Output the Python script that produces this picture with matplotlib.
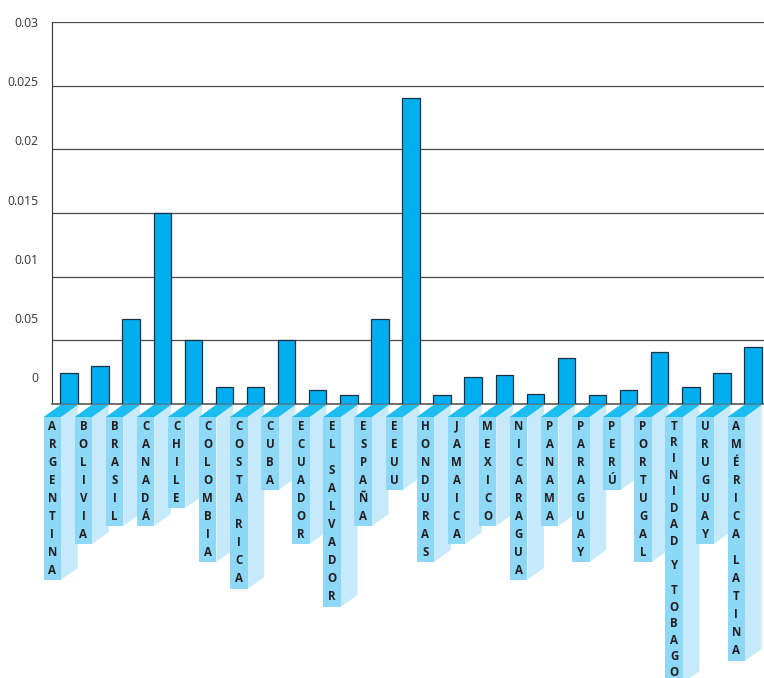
import matplotlib.pyplot as plt
from matplotlib.patches import Polygon
from matplotlib.transforms import IdentityTransform
import numpy as np

# Datos
paises = ['ARGENTINA', 'BOLIVIA', 'BRASIL', 'CANADÁ', 'CHILE', 'COLOMBIA',
          'COSTA RICA', 'CUBA', 'ECUADOR', 'EL SALVADOR', 'ESPAÑA', 'EEUU',
          'HONDURAS', 'JAMAICA', 'MEXICO', 'NICARAGUA', 'PANAMA', 'PARAGUAY',
          'PERÚ', 'PORTUGAL', 'TRINIDAD Y TOBAGO', 'URUGUAY', 'AMÉRICA LATINA']
valores = [0.0024, 0.0030, 0.0067, 0.0150, 0.0050, 0.0013,
           0.0013, 0.0050, 0.0011, 0.0007, 0.0067, 0.0240,
           0.0007, 0.0021, 0.0023, 0.0008, 0.0036, 0.0007,
           0.0011, 0.0041, 0.0013, 0.0024, 0.0045]
ticks = [0, 0.005, 0.01, 0.015, 0.02, 0.025, 0.03]
tick_labels = ['0', '0.05', '0.01', '0.015', '0.02', '0.025', '0.03']

W, H = 764, 678
fig = plt.figure(figsize=(W / 100, H / 100), dpi=100)
ax = fig.add_axes([52 / W, (H - 404) / H, (W - 52) / W, 382 / H])

x = np.arange(len(paises))
ancho = 0.56
ax.bar(x, valores, width=ancho, color='#00AEEF', edgecolor='#1a3342',
       linewidth=0.9, zorder=3)
ax.set_xlim(-0.547, len(paises) - 1 + 0.354)
ax.set_ylim(0, 0.03)
ax.set_yticks(ticks)
ax.yaxis.grid(True, color='#4a4a4a', linewidth=0.9)
ax.set_axisbelow(True)
ax.set_xticks([])
ax.tick_params(axis='y', length=0, labelleft=False)
for s in ['top', 'right']:
    ax.spines[s].set_visible(False)
ax.spines['left'].set_color('#333333')
ax.spines['bottom'].set_color('#666666')
ax.spines['bottom'].set_linewidth(1.3)

# etiquetas del eje y (en el original van algo desplazadas de las lineas)
lab = fig.add_axes(ax.get_position(), frameon=False)
lab.set_ylim(-0.002258, 0.02969)
lab.set_yticks(ticks, tick_labels, fontsize=8.7, color='#333333', family='Open Sans')
lab.tick_params(axis='y', length=0, pad=10)
lab.set_xticks([])

# cajas 3D con los nombres en vertical
dy = 12
for xi, nombre in zip(x, paises):
    xl, yb = ax.transData.transform((xi - ancho / 2, 0))
    xr, _ = ax.transData.transform((xi + ancho / 2, 0))
    bw = xr - xl
    d = bw * 0.96
    yb -= 1
    ytop = yb - dy

    pos = 0
    letras = []
    for ch in nombre:
        if ch == ' ':
            pos += 0.5
            continue
        letras.append((ch, pos))
        pos += 1
    ultimo = letras[-1][1]
    # los nombres largos se aprietan para que quepan
    paso = min(18, (ytop - 9 - 5) / ultimo)
    ybot = max(ytop - 9 - ultimo * paso - 10, -dy - 2)

    fx0, fx1 = xl - d, xl - d + bw
    front = Polygon([(fx0, ytop), (fx1, ytop), (fx1, ybot), (fx0, ybot)],
                    closed=True, facecolor='#8ED8F7', edgecolor='none',
                    transform=IdentityTransform())
    side = Polygon([(fx1, ytop), (xr, yb), (xr, ybot + dy), (fx1, ybot)],
                   closed=True, facecolor='#C7EAFA', edgecolor='none',
                   transform=IdentityTransform())
    top = Polygon([(fx0, ytop), (fx1, ytop), (xr, yb), (xl, yb)],
                  closed=True, facecolor='#1CBDF0', edgecolor='none',
                  transform=IdentityTransform())
    for p in (side, front, top):
        fig.add_artist(p)
    for ch, p in letras:
        fig.text((fx0 + fx1) / 2, ytop - 9 - p * paso, ch,
                 transform=IdentityTransform(), ha='center', va='center',
                 fontsize=8.3, fontweight='bold', color='#231F20',
                 family='Open Sans')

fig.savefig('out.png', dpi=100)
